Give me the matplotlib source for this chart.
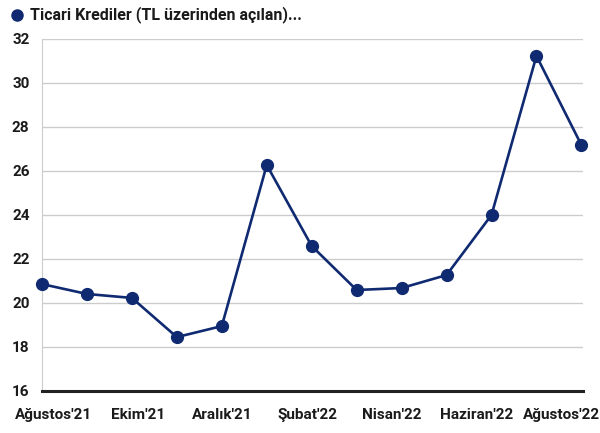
import numpy as np
import matplotlib.pyplot as plt

plt.rcParams['font.family'] = ['Roboto', 'DejaVu Sans']

# veriler
months = ["Ağustos'21", "Eylül'21", "Ekim'21", "Kasım'21", "Aralık'21", "Ocak'22", "Şubat'22",
          "Mart'22", "Nisan'22", "Mayıs'22", "Haziran'22", "Temmuz'22", "Ağustos'22"]
values = [20.86, 20.41, 20.23, 18.45, 18.95, 26.27, 22.59, 20.59, 20.68, 21.27, 24.0, 31.23, 27.18]
tick_labels = ["Ağustos'21", "Ekim'21", "Aralık'21", "Şubat'22", "Nisan'22", "Haziran'22", "Ağustos'22"]
yticks = [16, 18, 20, 22, 24, 26, 28, 30, 32]

navy = '#102a72'

fig = plt.figure(figsize=(6, 4.33), dpi=100)
ax = fig.add_axes([0.07, 0.097, 0.902, 0.813])

x = np.arange(len(values))
ax.plot(x, values, color=navy, lw=1.9, marker='o', markersize=8.5, clip_on=False, zorder=3)

ax.set_ylim(16, 32)
ax.set_xlim(0, 12.04)
ax.set_yticks(yticks)
ax.grid(axis='y', color='#cccccc', lw=1)
ax.set_axisbelow(True)

for s in ['top', 'right']:
    ax.spines[s].set_visible(False)
ax.spines['left'].set_color('#cccccc')
ax.spines['bottom'].set_color('#222222')
ax.spines['bottom'].set_linewidth(2.2)

ax.set_xticks(np.linspace(0.25, 11.55, len(tick_labels)))
ax.set_xticklabels(tick_labels)
ax.tick_params(axis='both', length=0, labelsize=11, colors='#1a1a1a')
ax.tick_params(axis='x', pad=12)
ax.tick_params(axis='y', pad=9)
for lab in ax.get_xticklabels() + ax.get_yticklabels():
    lab.set_fontweight('semibold')

# başlık / lejant
ax_dot = fig.add_axes([0, 0.93, 1, 0.07])
ax_dot.set_axis_off()
ax_dot.set_xlim(0, 600)
ax_dot.set_ylim(0, 1)
ax_dot.plot([17], [0.5], 'o', color=navy, markersize=8)
fig.text(0.05, 0.967, 'Ticari Krediler (TL üzerinden açılan)...', color='#1a1a1a',
         fontsize=11.5, va='center', ha='left', fontweight='semibold')

fig.savefig('out.png', dpi=100)
